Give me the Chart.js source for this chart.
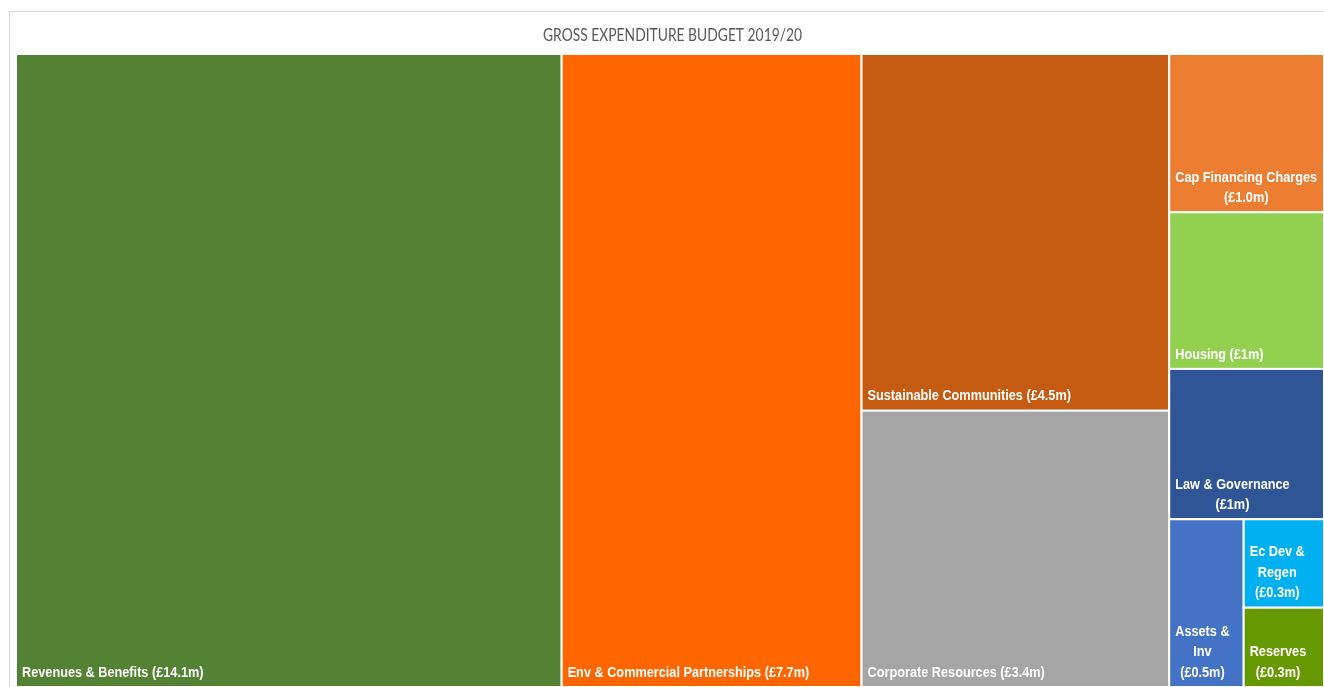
<!DOCTYPE html>
<html>
<head>
<meta charset="utf-8">
<script src="https://cdn.jsdelivr.net/npm/chart.js@4/dist/chart.umd.min.js"></script>
<style>
  html, body { margin: 0; padding: 0; background: #ffffff; }
  #wrap { position: relative; width: 1324px; height: 687px; }
</style>
</head>
<body>
<div id="wrap"><canvas id="c"></canvas></div>
<script>
const chartTitle = 'GROSS EXPENDITURE BUDGET 2019/20';
const categories = ['Revenues & Benefits', 'Env & Commercial Partnerships', 'Sustainable Communities', 'Corporate Resources', 'Cap Financing Charges', 'Housing', 'Law & Governance', 'Assets & Inv', 'Ec Dev & Regen', 'Reserves'];
const amountLabels = ['(£14.1m)', '(£7.7m)', '(£4.5m)', '(£3.4m)', '(£1.0m)', '(£1m)', '(£1m)', '(£0.5m)', '(£0.3m)', '(£0.3m)'];
const values = [14.1, 7.75, 4.48, 3.47, 1.0, 0.99, 0.95, 0.51, 0.29, 0.26];
const colors = ['#548235', '#FF6600', '#C55A11', '#A5A5A5', '#ED7D31', '#92D050', '#2F5597', '#4472C4', '#00B0F0', '#669900'];
// grouping of cells (indices into the arrays above), split direction alternates per level
const groups = [[0], [1], [2, 3], [4, 5, 6, [7, [8, 9]]]];

const total = values.reduce((a, b) => a + b, 0);

function weight(node) {
  if (typeof node === 'number') return values[node];
  return node.reduce((s, n) => s + weight(n), 0);
}
function layout(node, x0, y0, x1, y1, horizontal, out) {
  if (typeof node === 'number') { out[node] = {x0, y0, x1, y1}; return out; }
  const w = weight(node);
  let pos = horizontal ? x0 : y0;
  node.forEach(child => {
    const f = weight(child) / w;
    if (horizontal) {
      const nx = pos + (x1 - x0) * f;
      layout(child, pos, y0, nx, y1, !horizontal, out);
      pos = nx;
    } else {
      const ny = pos + (y1 - y0) * f;
      layout(child, x0, pos, x1, ny, !horizontal, out);
      pos = ny;
    }
  });
  return out;
}

function drawScaledText(ctx, text, x, y, sx) {
  ctx.save();
  ctx.translate(x, y);
  ctx.scale(sx, 1);
  ctx.fillText(text, 0, 0);
  ctx.restore();
}

const LABEL_FONT = 'bold 15.5px "Liberation Sans", Arial, sans-serif';
const LABEL_SX = 0.82;

function wrapWords(ctx, text, maxW) {
  const words = text.split(' ');
  const lines = [];
  let cur = '';
  words.forEach(wd => {
    const t = cur ? cur + ' ' + wd : wd;
    if (ctx.measureText(t).width * LABEL_SX <= maxW || !cur) cur = t;
    else { lines.push(cur); cur = wd; }
  });
  if (cur) lines.push(cur);
  return lines;
}

const treemapPlugin = {
  id: 'treemapCells',
  beforeDraw(chart) {
    const ctx = chart.ctx;
    ctx.save();
    ctx.fillStyle = '#ffffff';
    ctx.fillRect(0, 0, chart.width, chart.height);
    ctx.strokeStyle = '#D9D9D9';
    ctx.lineWidth = 1;
    ctx.strokeRect(9.5, 11.5, chart.width + 20, chart.height + 20);
    // title
    ctx.fillStyle = '#595959';
    ctx.font = '18px Lato, "Liberation Sans", sans-serif';
    ctx.textBaseline = 'middle';
    ctx.textAlign = 'left';
    const tw = ctx.measureText(chartTitle).width;
    const sx = 259 / tw;
    drawScaledText(ctx, chartTitle, 672.5 - tw * sx / 2, 35, sx);
    ctx.restore();
  },
  afterDatasetsDraw(chart) {
    const ctx = chart.ctx;
    const xs = chart.scales.x, ys = chart.scales.y;
    const rects = layout(groups, 0, 0, total, 1, true, []);
    ctx.save();
    rects.forEach((r, i) => {
      const px0 = xs.getPixelForValue(r.x0), px1 = xs.getPixelForValue(r.x1);
      const py0 = ys.getPixelForValue(r.y0), py1 = ys.getPixelForValue(r.y1);
      const left = Math.min(px0, px1), right = Math.max(px0, px1);
      const top = Math.min(py0, py1), bottom = Math.max(py0, py1);
      ctx.fillStyle = colors[i];
      ctx.fillRect(left, top, right - left, bottom - top);
      ctx.strokeStyle = '#ffffff';
      ctx.lineWidth = 2;
      ctx.strokeRect(left, top, right - left, bottom - top);
    });
    ctx.font = LABEL_FONT;
    ctx.fillStyle = '#ffffff';
    ctx.textBaseline = 'middle';
    ctx.textAlign = 'left';
    rects.forEach((r, i) => {
      const px0 = xs.getPixelForValue(r.x0), px1 = xs.getPixelForValue(r.x1);
      const py0 = ys.getPixelForValue(r.y0), py1 = ys.getPixelForValue(r.y1);
      const left = Math.min(px0, px1), right = Math.max(px0, px1);
      const bottom = Math.max(py0, py1);
      const text = categories[i] + ' ' + amountLabels[i];
      const lines = wrapWords(ctx, text, right - left - 11);
      const widths = lines.map(l => ctx.measureText(l).width * LABEL_SX);
      const blockW = Math.max(...widths);
      const lh = 20.5;
      const lastY = bottom - 14.5;
      const bx = left + 6;
      lines.forEach((l, k) => {
        const y = lastY - (lines.length - 1 - k) * lh;
        const x = lines.length > 1 ? bx + (blockW - widths[k]) / 2 : bx;
        drawScaledText(ctx, l, x, y, LABEL_SX);
      });
    });
    ctx.restore();
  }
};

new Chart(document.getElementById('c'), {
  type: 'scatter',
  data: {
    datasets: [{
      label: 'Gross expenditure',
      data: [],
      pointRadius: 0
    }]
  },
  options: {
    responsive: true,
    maintainAspectRatio: false,
    animation: false,
    layout: { padding: { left: 16, top: 54, right: 0, bottom: 0 } },
    plugins: {
      legend: { display: false },
      title: { display: false },
      tooltip: { enabled: false }
    },
    scales: {
      x: { type: 'linear', min: 0, max: total, display: false },
      y: { type: 'linear', min: 0, max: 1, reverse: true, display: false }
    }
  },
  plugins: [treemapPlugin]
});
</script>
</body>
</html>
